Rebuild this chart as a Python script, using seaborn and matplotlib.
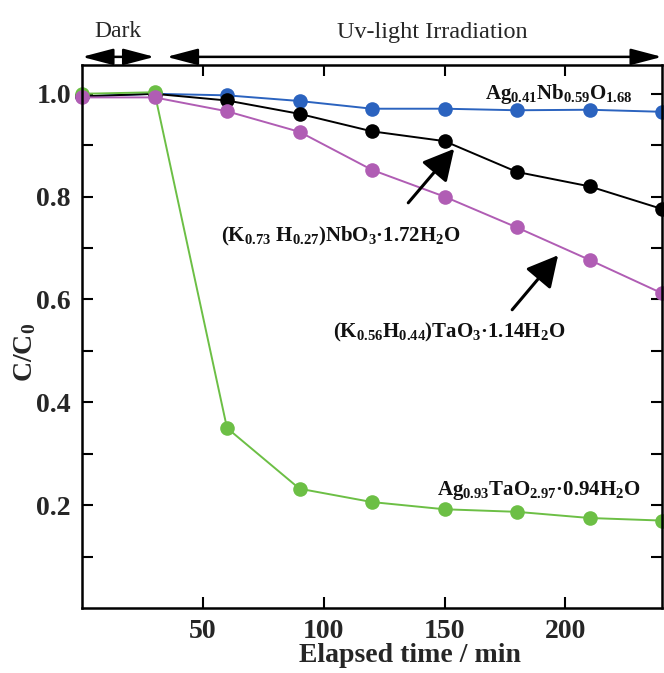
import matplotlib
matplotlib.use("Agg")
import matplotlib.pyplot as plt
import seaborn as sns
import pandas as pd

# Elapsed time (min) and normalised concentration C/C0 for each photocatalyst
time_min = [0, 30, 60, 90, 120, 150, 180, 210, 240]
ag_nbo = [0.995, 1.000, 0.997, 0.986, 0.971, 0.971, 0.968, 0.969, 0.965]
k_nbo = [0.995, 1.000, 0.987, 0.961, 0.927, 0.908, 0.848, 0.820, 0.776]
ag_tao = [1.000, 1.003, 0.350, 0.232, 0.206, 0.192, 0.187, 0.175, 0.170]
k_tao = [0.993, 0.993, 0.966, 0.926, 0.852, 0.800, 0.740, 0.677, 0.612]

series_names = ["AgNbO", "KNbO", "AgTaO", "KTaO"]
series_values = [ag_nbo, k_nbo, ag_tao, k_tao]
series_colors = ["#2b63bf", "#000000", "#6cbf45", "#b05db4"]

x_ticks = [50, 100, 150, 200]
y_ticks = [0.2, 0.4, 0.6, 0.8, 1.0]
y_minor = [0.1, 0.3, 0.5, 0.7, 0.9]

sns.set_theme(style="ticks")
plt.rcParams["font.family"] = ["Liberation Serif", "DejaVu Serif"]
plt.rcParams["mathtext.default"] = "regular"

frames = []
for name, vals in zip(series_names, series_values):
    frames.append(pd.DataFrame({"time": time_min, "ratio": vals, "sample": name}))
df = pd.concat(frames, ignore_index=True)

fig = plt.figure(figsize=(6.64, 6.73), dpi=100)
ax = fig.add_axes([0.1235, 0.0966, 0.8735, 0.8068])

sns.lineplot(data=df, x="time", y="ratio", hue="sample",
             hue_order=series_names, palette=series_colors,
             marker="o", markersize=10.5, markeredgewidth=0,
             linewidth=1.4, legend=False, ax=ax, clip_on=False)

ax.set_xlim(0, 240)
ax.set_ylim(0, 1.056)
ax.set_xticks(x_ticks)
ax.set_xticklabels([str(t) for t in x_ticks])
ax.set_yticks(y_ticks)
ax.set_yticklabels([f"{v:.1f}" for v in y_ticks])
ax.set_yticks(y_minor, minor=True)

for s in ax.spines.values():
    s.set_linewidth(1.8)
    s.set_color("black")

ax.tick_params(axis="both", which="both", direction="in", top=True, right=True,
               length=8, width=1.5, color="black")
ax.tick_params(axis="y", which="major", pad=8)
ax.tick_params(axis="x", which="major", pad=8)
for lab in ax.get_xticklabels() + ax.get_yticklabels():
    lab.set_fontsize(20)
    lab.set_fontweight("bold")

ax.set_xlabel("Elapsed time / min", fontsize=20, fontweight="bold", labelpad=-1, x=0.565)
ax.set_ylabel("C/C$_0$", fontsize=20, fontweight="bold", labelpad=-1, y=0.47)

# Compound labels
lab_kw = dict(fontsize=15, fontweight="bold", color="#111111")
ax.text(228, 0.99, "Ag$_{0.41}$Nb$_{0.59}$O$_{1.68}$", ha="right", va="baseline", **lab_kw)
ax.text(231, 0.206, "Ag$_{0.93}$TaO$_{2.97}$·0.94H$_2$O", ha="right", va="bottom", **lab_kw)
ax.text(107, 0.722, "(K$_{0.73}$ H$_{0.27}$)NbO$_3$·1.72H$_2$O", ha="center", va="center", **lab_kw)
ax.text(152, 0.535, "(K$_{0.56}$H$_{0.44}$)TaO$_3$·1.14H$_2$O", ha="center", va="center", **lab_kw)

arrow_kw = dict(arrowstyle="-|>,head_length=0.95,head_width=0.5", color="black",
                lw=2.2, mutation_scale=20, shrinkA=0, shrinkB=0)
ax.annotate("", xy=(154, 0.893), xytext=(135, 0.788), arrowprops=arrow_kw)
ax.annotate("", xy=(197, 0.686), xytext=(178, 0.580), arrowprops=arrow_kw)

# Dark / irradiation period arrows above the axes
tr = ax.get_xaxis_transform()
hdr_kw = dict(arrowstyle="<|-|>,head_length=1.9,head_width=0.5", color="black",
              lw=1.8, mutation_scale=10, shrinkA=0, shrinkB=0)
ax.annotate("", xy=(0, 1.015), xytext=(30, 1.015), xycoords=tr, textcoords=tr,
            arrowprops=hdr_kw, annotation_clip=False)
ax.annotate("", xy=(35, 1.015), xytext=(240, 1.015), xycoords=tr, textcoords=tr,
            arrowprops=hdr_kw, annotation_clip=False)
ax.text(15, 1.062, "Dark", transform=tr, ha="center", va="center", fontsize=17, clip_on=False)
ax.text(145, 1.060, "Uv-light Irradiation", transform=tr, ha="center", va="center",
        fontsize=17.5, clip_on=False)

fig.savefig("out.png", dpi=100, facecolor="white")
